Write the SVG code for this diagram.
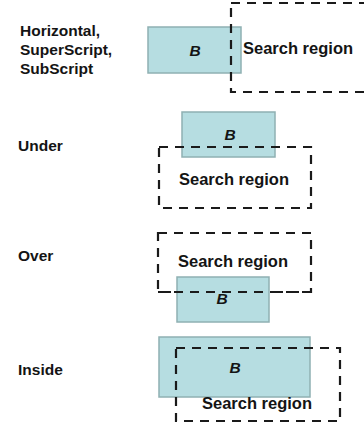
<svg xmlns="http://www.w3.org/2000/svg" width="364" height="429" viewBox="0 0 364 429">
  <style>
    .label { font-family: "Liberation Sans", Arial, sans-serif; font-weight: bold; font-size: 15.5px; fill: #141414; }
    .region-text { font-family: "Liberation Sans", Arial, sans-serif; font-weight: bold; font-size: 16.5px; fill: #141414; }
    .b-text { font-family: "Liberation Sans", Arial, sans-serif; font-weight: bold; font-style: italic; font-size: 15.5px; fill: #141414; }
    .box { fill: #b6dde1; stroke: #8fb0b2; stroke-width: 1.5; }
    .region { fill: none; stroke: #1a1a1a; stroke-width: 2.2; stroke-dasharray: 9 7; }
  </style>
  <rect width="364" height="429" fill="#ffffff"/>

  <!-- Horizontal / SuperScript / SubScript -->
  <g id="horizontal">
    <text class="label" x="20" y="36">Horizontal,</text>
    <text class="label" x="20" y="55">SuperScript,</text>
    <text class="label" x="20" y="74">SubScript</text>
    <rect class="box" x="148" y="27" width="93" height="46"/>
    <text class="b-text" x="195" y="56" text-anchor="middle">B</text>
    <rect class="region" x="231" y="3" width="150" height="89"/>
    <text class="region-text" x="243" y="54">Search region</text>
  </g>

  <!-- Under -->
  <g id="under">
    <text class="label" x="18" y="151">Under</text>
    <rect class="box" x="182" y="112" width="93" height="45"/>
    <text class="b-text" x="230" y="140" text-anchor="middle">B</text>
    <rect class="region" x="159" y="147" width="152" height="61"/>
    <text class="region-text" x="234" y="185" text-anchor="middle">Search region</text>
  </g>

  <!-- Over -->
  <g id="over">
    <text class="label" x="18" y="261">Over</text>
    <rect class="region" x="158" y="233" width="153" height="59"/>
    <text class="region-text" x="233" y="267" text-anchor="middle">Search region</text>
    <rect class="box" x="177" y="277" width="92" height="45"/>
    <text class="b-text" x="222" y="304" text-anchor="middle">B</text>
    <line x1="158" y1="292" x2="311" y2="292" class="region"/>
  </g>

  <!-- Inside -->
  <g id="inside">
    <text class="label" x="18" y="375">Inside</text>
    <rect class="box" x="159" y="337" width="151" height="60"/>
    <text class="b-text" x="235" y="373" text-anchor="middle">B</text>
    <rect class="region" x="176" y="348" width="164" height="73"/>
    <text class="region-text" x="257" y="409" text-anchor="middle">Search region</text>
  </g>
</svg>
